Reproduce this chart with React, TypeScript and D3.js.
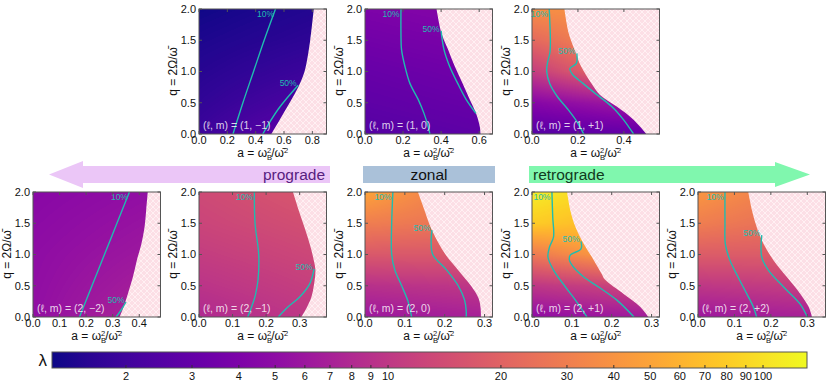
import React, { useMemo } from 'react';
import * as d3 from 'd3';

const W = 831;
const H = 386;
const PW = 127.5;
const PH = 125;
const FONT = "'Liberation Sans', Arial, Helvetica, sans-serif";
const TEAL = '#1fbcb0';

// colour bar (lambda, log scale)
const cbTicks = [2, 3, 4, 5, 6, 7, 8, 9, 10, 20, 30, 40, 50, 60, 70, 80, 90, 100];
const cbDomain = [1.27, 131];

const lamQ = [0, 0.5, 1, 1.5, 2];

// (l,m) = (1,-1)
const bound_1m1 = [[0, 0.51], [0.25, 0.575], [0.5, 0.64], [0.75, 0.7], [1.0, 0.745], [1.5, 0.785], [2.0, 0.81]];
const c10_1m1 = [[0, 0.24], [0.5, 0.31], [1.0, 0.385], [1.5, 0.46], [2.0, 0.54]];
const c50_1m1 = [[0, 0.45], [0.4, 0.56], [0.78, 0.7]];
const lamL_1m1 = [1.9, 1.7, 1.55, 1.42, 1.3];
const lamR_1m1 = [2.6, 2.2, 1.9, 1.65, 1.5];

// (1,0)
const bound_10 = [[0, 0.607], [0.12, 0.603], [0.31, 0.586], [0.55, 0.551], [0.81, 0.513], [1.08, 0.472], [1.35, 0.437], [1.61, 0.402], [2.0, 0.376]];
const c10_10 = [[0, 0.341], [0.12, 0.332], [0.33, 0.31], [0.55, 0.28], [0.81, 0.236], [1.08, 0.21], [1.35, 0.192], [1.61, 0.189], [2.0, 0.189]];
const c50_10 = [[0.33, 0.583], [0.55, 0.532], [0.81, 0.487], [1.08, 0.445], [1.35, 0.415], [1.65, 0.4]];
const lamL_10 = [2.5, 2.8, 3.1, 3.5, 4.0];
const lamR_10 = [2.8, 3.1, 3.4, 3.8, 4.3];

// (1,+1)
const bound_1p1 = [[0, 0.498], [0.23, 0.442], [0.44, 0.369], [0.63, 0.295], [0.81, 0.259], [1.08, 0.214], [1.35, 0.185], [1.61, 0.16], [2.0, 0.141]];
const c10_1p1 = [[0, 0.225], [0.2, 0.195], [0.4, 0.155], [0.6, 0.11], [0.8, 0.078], [1.0, 0.064], [1.15, 0.068], [1.3, 0.078], [1.5, 0.08], [2.0, 0.075]];
const c50_1p1 = [[0, 0.442], [0.23, 0.398], [0.44, 0.347], [0.65, 0.275], [0.81, 0.222], [0.96, 0.175], [1.05, 0.165], [1.13, 0.193], [1.29, 0.195]];
const lamL_1p1 = [2.5, 4.5, 11, 22, 38];
const lamR_1p1 = [3.0, 6, 18, 28, 38];

// (2,-2)
const bound_2m2 = [[0, 0.326], [0.16, 0.341], [0.37, 0.357], [0.64, 0.376], [0.91, 0.391], [1.17, 0.408], [1.44, 0.42], [1.71, 0.426], [2.0, 0.432]];
const c10_2m2 = [[0, 0.175], [0.5, 0.222], [1.0, 0.269], [1.5, 0.316], [2.0, 0.363]];
const c50_2m2 = [[0, 0.313], [0.12, 0.333], [0.24, 0.35]];
const lamL_2m2 = [5.2, 5.1, 5.0, 4.8, 4.6];
const lamR_2m2 = [7.0, 6.5, 6.0, 5.6, 5.2];

// (2,-1)
const bound_2m1 = [[0, 0.305], [0.16, 0.322], [0.32, 0.335], [0.53, 0.343], [0.75, 0.347], [0.91, 0.342], [1.17, 0.33], [1.44, 0.314], [1.71, 0.297], [2.0, 0.28]];
const c10_2m1 = [[0, 0.145], [0.15, 0.156], [0.35, 0.168], [0.6, 0.176], [1.0, 0.178], [1.5, 0.167], [2.0, 0.165]];
const c50_2m1 = [[0, 0.236], [0.16, 0.265], [0.32, 0.3], [0.53, 0.33], [0.77, 0.343]];
const lamL_2m1 = [8, 9.5, 11, 12.5, 13.5];
const lamR_2m1 = [10, 11.5, 13, 14.5, 16];

// (2,0)
const bound_20 = [[0, 0.291], [0.15, 0.29], [0.3, 0.285], [0.5, 0.266], [0.75, 0.234], [1.0, 0.202], [1.39, 0.168], [1.75, 0.147], [2.0, 0.133]];
const c10_20 = [[0, 0.117], [0.25, 0.108], [0.5, 0.092], [0.75, 0.075], [1.0, 0.067], [1.5, 0.067], [2.0, 0.07]];
const c50_20 = [[0, 0.254], [0.1, 0.254], [0.27, 0.25], [0.5, 0.234], [0.75, 0.205], [1.0, 0.17], [1.2, 0.166], [1.39, 0.168]];
const lamL_20 = [6, 9, 17, 30, 50];
const lamR_20 = [7, 10, 17, 27, 36];

// (2,+1)
const bound_2p1 = [[0, 0.292], [0.16, 0.272], [0.37, 0.23], [0.6, 0.183], [0.69, 0.175], [0.91, 0.155], [1.17, 0.13], [1.44, 0.109], [1.71, 0.096], [2.0, 0.088]];
const c10_2p1 = [[0, 0.138], [0.27, 0.109], [0.48, 0.084], [0.75, 0.054], [0.96, 0.04], [1.12, 0.044], [1.28, 0.054], [1.6, 0.052], [2.0, 0.05]];
const c50_2p1 = [[0, 0.256], [0.27, 0.213], [0.48, 0.167], [0.64, 0.13], [0.8, 0.104], [0.91, 0.094], [0.99, 0.096], [1.09, 0.123], [1.21, 0.123]];
const lamL_2p1 = [5, 10, 28, 80, 115];
const lamR_2p1 = [6.5, 12, 40, 70, 100];

// (2,+2)
const bound_2p2 = [[0, 0.313], [0.16, 0.304], [0.37, 0.281], [0.64, 0.244], [0.91, 0.207], [1.17, 0.18], [1.44, 0.161], [1.71, 0.148], [2.0, 0.138]];
const c10_2p2 = [[0, 0.161], [0.16, 0.152], [0.37, 0.134], [0.64, 0.11], [0.91, 0.0875], [1.17, 0.075], [1.5, 0.074], [2.0, 0.074]];
const c50_2p2 = [[0, 0.3], [0.21, 0.28], [0.48, 0.235], [0.75, 0.193], [0.96, 0.175], [1.31, 0.175]];
const lamL_2p2 = [6, 10, 18, 30, 42];
const lamR_2p2 = [7, 11, 18, 26, 34];

const yTicks = [0, 0.5, 1, 1.5, 2];

const panels = [
  { id: '1m1', label: '(ℓ, m) = (1, −1)', left: 199, top: 9, xmax: 0.9, xt: [0, 0.2, 0.4, 0.6, 0.8], bound: bound_1m1, c10: c10_1m1, c50: c50_1m1, lamL: lamL_1m1, lamR: lamR_1m1 },
  { id: '10', label: '(ℓ, m) = (1, 0)', left: 365, top: 9, xmax: 0.67, xt: [0, 0.2, 0.4, 0.6], bound: bound_10, c10: c10_10, c50: c50_10, lamL: lamL_10, lamR: lamR_10 },
  { id: '1p1', label: '(ℓ, m) = (1, +1)', left: 532, top: 9, xmax: 0.555, xt: [0, 0.2, 0.4], bound: bound_1p1, c10: c10_1p1, c50: c50_1p1, lamL: lamL_1p1, lamR: lamR_1p1 },
  { id: '2m2', label: '(ℓ, m) = (2, −2)', left: 33, top: 192, xmax: 0.48, xt: [0, 0.1, 0.2, 0.3, 0.4], bound: bound_2m2, c10: c10_2m2, c50: c50_2m2, lamL: lamL_2m2, lamR: lamR_2m2 },
  { id: '2m1', label: '(ℓ, m) = (2, −1)', left: 199, top: 192, xmax: 0.38, xt: [0, 0.1, 0.2, 0.3], bound: bound_2m1, c10: c10_2m1, c50: c50_2m1, lamL: lamL_2m1, lamR: lamR_2m1 },
  { id: '20', label: '(ℓ, m) = (2, 0)', left: 365, top: 192, xmax: 0.32, xt: [0, 0.1, 0.2, 0.3], bound: bound_20, c10: c10_20, c50: c50_20, lamL: lamL_20, lamR: lamR_20 },
  { id: '2p1', label: '(ℓ, m) = (2, +1)', left: 532, top: 192, xmax: 0.32, xt: [0, 0.1, 0.2, 0.3], bound: bound_2p1, c10: c10_2p1, c50: c50_2p1, lamL: lamL_2p1, lamR: lamR_2p1 },
  { id: '2p2', label: '(ℓ, m) = (2, +2)', left: 698, top: 192, xmax: 0.35, xt: [0, 0.1, 0.2, 0.3], bound: bound_2p2, c10: c10_2p2, c50: c50_2p2, lamL: lamL_2p2, lamR: lamR_2p2 },
];

const lamColor = d3.scaleSequentialLog(d3.interpolatePlasma).domain(cbDomain);
const fmt1 = d3.format('.1f');

function heatmap(p, x, y) {
  const w = Math.round(PW);
  const h = PH;
  const cv = document.createElement('canvas');
  cv.width = w;
  cv.height = h;
  const ctx = cv.getContext('2d');
  if (!ctx) return '';
  const img = ctx.createImageData(w, h);
  const edge = d3.scaleLinear().domain(p.bound.map((d) => d[0])).range(p.bound.map((d) => d[1])).clamp(true);
  const lL = d3.scaleLinear().domain(lamQ).range(p.lamL.map(Math.log)).clamp(true);
  const lR = d3.scaleLinear().domain(lamQ).range(p.lamR.map(Math.log)).clamp(true);
  for (let j = 0; j < h; j++) {
    const q = y.invert(p.top + j + 0.5);
    const aE = edge(q);
    const l0 = lL(q);
    const l1 = lR(q);
    for (let i = 0; i < w; i++) {
      const a = x.invert(p.left + i + 0.5);
      const f = Math.max(0, Math.min(1, a / aE));
      const c = d3.rgb(lamColor(Math.exp(l0 * (1 - f) + l1 * f)));
      const k = (j * w + i) * 4;
      img.data[k] = c.r;
      img.data[k + 1] = c.g;
      img.data[k + 2] = c.b;
      img.data[k + 3] = 255;
    }
  }
  ctx.putImageData(img, 0, 0);
  return cv.toDataURL();
}

function XLabel({ x, y }) {
  return (
    <text x={x} y={y} textAnchor="middle" fontSize={12} fontFamily={FONT} fill="#111">
      a = ω
      <tspan fontSize={7.5} dy={2.5}>B</tspan>
      <tspan fontSize={7.5} dx={-5} dy={-7}>2</tspan>
      <tspan fontSize={12} dy={4.5}>/ω̄</tspan>
      <tspan fontSize={7.5} dy={-4.5}>2</tspan>
    </text>
  );
}

function Panel({ p }) {
  const x = d3.scaleLinear().domain([0, p.xmax]).range([p.left, p.left + PW]);
  const y = d3.scaleLinear().domain([0, 2]).range([p.top + PH, p.top]);
  const url = useMemo(() => heatmap(p, x, y), [p.id]);
  const right = p.left + PW;
  const bottom = p.top + PH;
  const hatch = d3
    .area()
    .y((d) => y(d[0]))
    .x0((d) => x(d[1]))
    .x1(right + 1)
    .curve(d3.curveCatmullRom)(p.bound);
  const line = d3
    .line()
    .x((d) => x(d[1]))
    .y((d) => y(d[0]))
    .curve(d3.curveCatmullRom);
  const end10 = p.c10[p.c10.length - 1];
  const end50 = p.c50[p.c50.length - 1];
  const lab = (pt, t) => (
    <text
      x={x(pt[1]) - 1.5}
      y={Math.max(y(pt[0]) + 1, p.top + 8)}
      textAnchor="end"
      fontSize={8.5}
      fontFamily={FONT}
      fill={TEAL}
    >
      {t}
    </text>
  );
  return (
    <g>
      <clipPath id={`clip${p.id}`}>
        <rect x={p.left} y={p.top} width={PW} height={PH} />
      </clipPath>
      <g clipPath={`url(#clip${p.id})`}>
        <image href={url} x={p.left} y={p.top} width={PW} height={PH} preserveAspectRatio="none" />
        <path d={hatch || ''} fill="url(#hatch)" />
        <path d={line(p.c10) || ''} fill="none" stroke={TEAL} strokeWidth={1.4} />
        <path d={line(p.c50) || ''} fill="none" stroke={TEAL} strokeWidth={1.4} />
      </g>
      {lab(end10, '10%')}
      {lab(end50, '50%')}
      <text x={p.left + 4} y={bottom - 5} fontSize={10.5} fontFamily={FONT} fill="rgba(255,255,255,0.82)">
        {p.label}
      </text>
      <rect x={p.left} y={p.top} width={PW} height={PH} fill="none" stroke="#555" strokeWidth={1} />
      {p.xt.map((v) => (
        <g key={`x${v}`}>
          <line x1={x(v)} x2={x(v)} y1={bottom} y2={bottom - 3} stroke="#555" />
          <line x1={x(v)} x2={x(v)} y1={p.top} y2={p.top + 3} stroke="#555" />
          <text x={x(v)} y={bottom + 10} textAnchor="middle" fontSize={11} fontFamily={FONT} fill="#111">
            {fmt1(v)}
          </text>
        </g>
      ))}
      {yTicks.map((v) => (
        <g key={`y${v}`}>
          <line x1={p.left} x2={p.left + 3} y1={y(v)} y2={y(v)} stroke="#555" />
          <line x1={right} x2={right - 3} y1={y(v)} y2={y(v)} stroke="#555" />
          <text x={p.left - 3} y={y(v)} dy="0.35em" textAnchor="end" fontSize={11} fontFamily={FONT} fill="#111">
            {fmt1(v)}
          </text>
        </g>
      ))}
      <text
        transform={`translate(${p.left - 22},${p.top + PH / 2}) rotate(-90)`}
        textAnchor="middle"
        fontSize={12}
        fontFamily={FONT}
        fill="#111"
      >
        q = 2Ω/ω̄
      </text>
      <XLabel x={p.left + PW / 2} y={bottom + 23} />
    </g>
  );
}

function ColorBar() {
  const x0 = 52;
  const x1 = 807;
  const yTop = 352;
  const hgt = 16;
  const sx = d3.scaleLog().domain(cbDomain).range([x0, x1]);
  const stops = d3.range(0, 1.0001, 0.05);
  return (
    <g>
      <defs>
        <linearGradient id="cbgrad" x1="0" x2="1" y1="0" y2="0">
          {stops.map((t) => (
            <stop key={t} offset={t} stopColor={d3.interpolatePlasma(t)} />
          ))}
        </linearGradient>
      </defs>
      <rect x={x0} y={yTop} width={x1 - x0} height={hgt} fill="url(#cbgrad)" stroke="#555" strokeWidth={1} />
      {cbTicks.map((v) => (
        <g key={v}>
          <line x1={sx(v)} x2={sx(v)} y1={yTop + hgt} y2={yTop + hgt - 3} stroke="#333" />
          <text x={sx(v)} y={yTop + hgt + 12} textAnchor="middle" fontSize={11} fontFamily={FONT} fill="#111">
            {v}
          </text>
        </g>
      ))}
      <text x={47} y={yTop + hgt / 2} dy="0.35em" textAnchor="end" fontSize={17} fontFamily={FONT} fill="#111">
        λ
      </text>
    </g>
  );
}

function Arrows() {
  const y0 = 166;
  const y1 = 183;
  const ym = (y0 + y1) / 2;
  return (
    <g fontFamily={FONT} fontSize={15.5}>
      <path d={`M49,${ym} L83,161 L83,${y0} L330,${y0} L330,${y1} L83,${y1} L83,188 Z`} fill="#ebc6f7" />
      <text x={325} y={ym} dy="0.35em" textAnchor="end" fill="#58207f">
        prograde
      </text>
      <rect x={363} y={y0} width={132} height={y1 - y0} fill="#aac1d9" />
      <text x={429} y={ym} dy="0.35em" textAnchor="middle" fill="#111">
        zonal
      </text>
      <path d={`M529,${y0} L775,${y0} L775,162 L810,${ym} L775,187 L775,${y1} L529,${y1} Z`} fill="#80f7ae" />
      <text x={533} y={ym} dy="0.35em" fill="#123a20">
        retrograde
      </text>
    </g>
  );
}

export default function App() {
  return (
    <svg
      width={W}
      height={H}
      viewBox={`0 0 ${W} ${H}`}
      style={{ position: 'absolute', left: 0, top: 0, background: '#fff' }}
    >
      <defs>
        <pattern id="hatch" width={6} height={6} patternUnits="userSpaceOnUse">
          <rect width={6} height={6} fill="#fcdfe6" />
          <path d="M0,0 L6,6 M6,0 L0,6" stroke="#fff2f5" strokeWidth={0.9} />
        </pattern>
      </defs>
      <rect width={W} height={H} fill="#fff" />
      {panels.map((p) => (
        <Panel key={p.id} p={p} />
      ))}
      <Arrows />
      <ColorBar />
    </svg>
  );
}
